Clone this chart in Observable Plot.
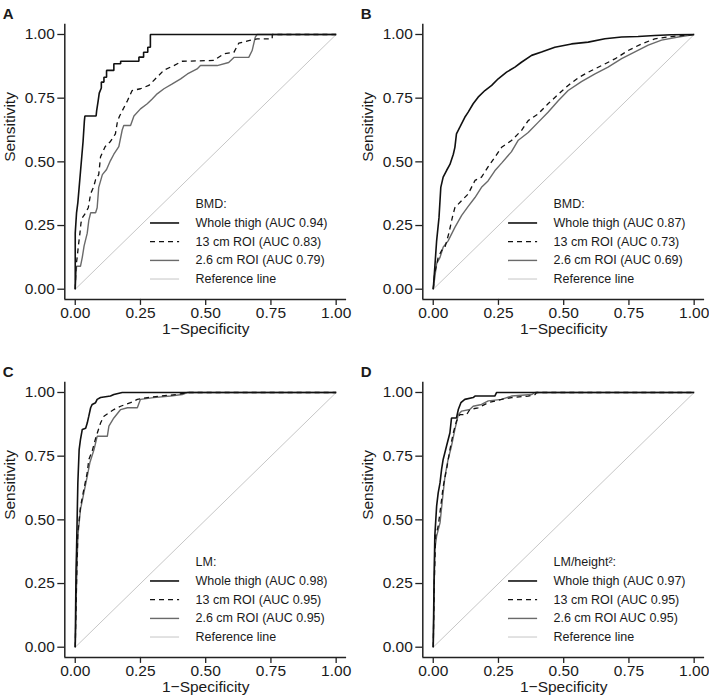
<!DOCTYPE html>
<html><head><meta charset="utf-8">
<script src="https://cdn.jsdelivr.net/npm/d3@7"></script>
<script src="https://cdn.jsdelivr.net/npm/@observablehq/plot@0.6"></script>
<style>
body{margin:0;background:#fff;}
#wrap{position:relative;width:709px;height:698px;overflow:hidden;}
.panel{position:absolute;}
</style></head><body><div id="wrap"></div>
<script>
// ---------- data ----------
const tickValues = [0, 0.25, 0.5, 0.75, 1];
const panelLetters = ["A", "B", "C", "D"];
const legendTitles = ["BMD:", "BMD:", "LM:", "LM/height²:"];
const legendLabels = [
  ["Whole thigh (AUC 0.94)", "13 cm ROI (AUC 0.83)", "2.6 cm ROI (AUC 0.79)", "Reference line"],
  ["Whole thigh (AUC 0.87)", "13 cm ROI (AUC 0.73)", "2.6 cm ROI (AUC 0.69)", "Reference line"],
  ["Whole thigh (AUC 0.98)", "13 cm ROI (AUC 0.95)", "2.6 cm ROI (AUC 0.95)", "Reference line"],
  ["Whole thigh (AUC 0.97)", "13 cm ROI (AUC 0.95)", "2.6 cm ROI AUC 0.95)", "Reference line"]
];
const referenceLine = [[0, 0], [1, 1]];

// points are [1-specificity, sensitivity]
const aWhole = [[0,0],[0,0.22],[0.005,0.3],[0.01,0.34],[0.015,0.4],[0.02,0.46],[0.025,0.52],[0.03,0.58],[0.035,0.66],[0.037,0.68],[0.08,0.68],[0.082,0.70],[0.088,0.74],[0.092,0.77],[0.1,0.79],[0.1,0.813],[0.11,0.813],[0.11,0.832],[0.12,0.832],[0.12,0.859],[0.148,0.859],[0.148,0.885],[0.174,0.885],[0.174,0.895],[0.244,0.895],[0.244,0.911],[0.262,0.911],[0.262,0.93],[0.278,0.93],[0.278,0.95],[0.288,0.95],[0.288,1],[1,1]];
const a13cm = [[0,0],[0.003,0.09],[0.008,0.13],[0.012,0.17],[0.018,0.22],[0.022,0.26],[0.027,0.28],[0.04,0.3],[0.05,0.32],[0.059,0.375],[0.07,0.4],[0.078,0.43],[0.09,0.45],[0.097,0.52],[0.115,0.56],[0.135,0.58],[0.154,0.61],[0.162,0.66],[0.17,0.68],[0.18,0.70],[0.2,0.74],[0.218,0.78],[0.25,0.787],[0.282,0.80],[0.314,0.833],[0.34,0.86],[0.378,0.878],[0.41,0.895],[0.53,0.898],[0.57,0.924],[0.608,0.93],[0.627,0.966],[0.665,0.976],[0.697,0.983],[0.755,0.983],[0.755,1],[1,1]];
const a26cm = [[0,0],[0.005,0.09],[0.02,0.09],[0.027,0.125],[0.034,0.17],[0.046,0.22],[0.052,0.27],[0.059,0.3],[0.078,0.3],[0.084,0.32],[0.09,0.4],[0.104,0.45],[0.12,0.47],[0.135,0.505],[0.148,0.53],[0.167,0.56],[0.18,0.625],[0.186,0.643],[0.212,0.643],[0.225,0.68],[0.25,0.708],[0.276,0.728],[0.295,0.747],[0.314,0.767],[0.34,0.787],[0.372,0.806],[0.404,0.826],[0.43,0.845],[0.467,0.865],[0.48,0.878],[0.544,0.878],[0.588,0.89],[0.608,0.91],[0.665,0.91],[0.678,0.937],[0.69,0.99],[0.697,1],[1,1]];

const bWhole = [[0,0],[0.006,0.086],[0.013,0.19],[0.022,0.28],[0.029,0.4],[0.038,0.44],[0.051,0.466],[0.064,0.49],[0.077,0.53],[0.083,0.557],[0.089,0.61],[0.102,0.636],[0.121,0.675],[0.134,0.695],[0.153,0.728],[0.172,0.754],[0.198,0.78],[0.224,0.8],[0.249,0.826],[0.281,0.852],[0.313,0.872],[0.338,0.891],[0.377,0.918],[0.415,0.931],[0.466,0.95],[0.53,0.963],[0.594,0.97],[0.658,0.983],[0.722,0.99],[0.785,0.992],[0.849,0.996],[0.913,0.999],[1,1]];
const b13cm = [[0,0],[0.005,0.06],[0.019,0.125],[0.032,0.152],[0.045,0.165],[0.06,0.22],[0.075,0.29],[0.083,0.32],[0.109,0.348],[0.134,0.374],[0.16,0.427],[0.185,0.44],[0.21,0.48],[0.236,0.518],[0.262,0.557],[0.3,0.584],[0.338,0.623],[0.364,0.662],[0.402,0.688],[0.44,0.728],[0.479,0.765],[0.517,0.8],[0.556,0.83],[0.594,0.852],[0.645,0.878],[0.696,0.904],[0.747,0.937],[0.798,0.963],[0.849,0.983],[0.913,0.992],[1,1]];
const b26cm = [[0,0],[0.013,0.1],[0.026,0.125],[0.038,0.165],[0.057,0.19],[0.083,0.243],[0.109,0.29],[0.134,0.325],[0.16,0.36],[0.185,0.4],[0.21,0.425],[0.236,0.465],[0.262,0.495],[0.3,0.54],[0.326,0.585],[0.364,0.615],[0.402,0.655],[0.44,0.695],[0.479,0.74],[0.517,0.78],[0.568,0.815],[0.62,0.845],[0.67,0.872],[0.722,0.905],[0.773,0.932],[0.824,0.958],[0.875,0.978],[0.939,0.99],[1,1]];

const cWhole = [[0,0],[0.003,0.3],[0.005,0.38],[0.01,0.645],[0.015,0.776],[0.02,0.815],[0.027,0.855],[0.04,0.86],[0.046,0.88],[0.052,0.907],[0.059,0.94],[0.065,0.953],[0.078,0.96],[0.084,0.973],[0.097,0.98],[0.135,0.986],[0.148,0.992],[0.18,1],[1,1]];
const c13cm = [[0,0],[0.005,0.25],[0.01,0.45],[0.02,0.55],[0.033,0.62],[0.046,0.685],[0.052,0.737],[0.065,0.77],[0.078,0.82],[0.097,0.88],[0.11,0.907],[0.129,0.92],[0.148,0.933],[0.174,0.946],[0.212,0.96],[0.238,0.973],[0.276,0.98],[0.327,0.986],[0.39,0.992],[0.43,1],[1,1]];
const c26cm = [[0,0],[0.005,0.25],[0.01,0.436],[0.02,0.54],[0.033,0.606],[0.046,0.671],[0.056,0.724],[0.072,0.776],[0.084,0.828],[0.123,0.828],[0.129,0.868],[0.148,0.9],[0.174,0.933],[0.2,0.94],[0.238,0.94],[0.25,0.973],[0.3,0.98],[0.365,0.986],[0.41,0.992],[0.43,1],[1,1]];

const dWhole = [[0,0],[0.003,0.25],[0.006,0.436],[0.013,0.554],[0.019,0.606],[0.026,0.645],[0.032,0.698],[0.038,0.737],[0.051,0.79],[0.064,0.842],[0.07,0.9],[0.089,0.9],[0.096,0.933],[0.106,0.96],[0.121,0.973],[0.153,0.98],[0.16,0.986],[0.236,0.986],[0.243,1],[1,1]];
const d13cm = [[0,0],[0.004,0.25],[0.009,0.436],[0.019,0.475],[0.029,0.554],[0.038,0.63],[0.051,0.698],[0.064,0.776],[0.077,0.842],[0.089,0.887],[0.102,0.913],[0.128,0.913],[0.14,0.933],[0.172,0.94],[0.211,0.96],[0.262,0.973],[0.3,0.98],[0.364,0.986],[0.39,0.992],[0.396,1],[1,1]];
const d26cm = [[0,0],[0.006,0.383],[0.013,0.436],[0.026,0.488],[0.034,0.567],[0.045,0.671],[0.057,0.737],[0.07,0.79],[0.083,0.855],[0.096,0.913],[0.109,0.927],[0.14,0.933],[0.153,0.946],[0.185,0.953],[0.211,0.967],[0.262,0.973],[0.3,0.986],[0.377,0.992],[0.39,1],[1,1]];

const panelCurves = [
  [aWhole, a13cm, a26cm],
  [bWhole, b13cm, b26cm],
  [cWhole, c13cm, c26cm],
  [dWhole, d13cm, d26cm]
];

// ---------- styles & layout ----------
const FONT = "'Liberation Sans', Arial, Helvetica, sans-serif";
const TEXT = "#1a1a1a";
const seriesStyles = [
  {stroke: "#111111", strokeWidth: 1.6, dash: null},
  {stroke: "#111111", strokeWidth: 1.3, dash: "5,4"},
  {stroke: "#6a6a6a", strokeWidth: 1.4, dash: null},
  {stroke: "#c6c6c6", strokeWidth: 1.0, dash: null}
];
const panelPos = [[0, 0], [357.6, 0], [0, 358.3], [357.6, 358.3]];
const W = 350, H = 340;
const dom = [-0.04, 1.04];
// legend layout (in data units of each panel)
const legLineX1 = 0.2885, legLineX2 = 0.40, legTextX = 0.461;
const legTitleY = 0.333, legRowY = [0.26, 0.187, 0.113, 0.04];

const wrap = document.getElementById("wrap");

panelCurves.forEach((curves, i) => {
  const marks = [];
  marks.push(Plot.line(referenceLine, {x: d => d[0], y: d => d[1], stroke: seriesStyles[3].stroke, strokeWidth: seriesStyles[3].strokeWidth}));
  [2, 1, 0].forEach(k => {
    const s = seriesStyles[k];
    marks.push(Plot.line(curves[k], {
      x: d => d[0], y: d => d[1],
      stroke: s.stroke, strokeWidth: s.strokeWidth,
      strokeDasharray: s.dash || undefined, strokeLinejoin: "miter", strokeLinecap: "butt"
    }));
  });
  marks.push(Plot.ruleY([dom[0]], {x1: dom[0], x2: dom[1], stroke: "#222", strokeWidth: 1.5}));
  marks.push(Plot.ruleX([dom[0]], {y1: dom[0], y2: dom[1], stroke: "#222", strokeWidth: 1.5}));
  marks.push(Plot.axisX({ticks: tickValues, tickFormat: d3.format(".2f"), tickSize: 6, tickPadding: 2, fontSize: 15.5, label: null, stroke: "#222", strokeWidth: 1.3, fill: TEXT}));
  marks.push(Plot.axisY({ticks: tickValues, tickFormat: d3.format(".2f"), tickSize: 7, tickPadding: 3, fontSize: 15.5, label: null, stroke: "#222", strokeWidth: 1.3, fill: TEXT}));
  marks.push(Plot.text(["1\u2212Specificity"], {frameAnchor: "bottom", dy: 34.5, fontSize: 15.5, fill: TEXT}));
  marks.push(Plot.text(["Sensitivity"], {frameAnchor: "left", dx: -55, rotate: -90, fontSize: 15.5, fill: TEXT}));
  marks.push(Plot.text([panelLetters[i]], {frameAnchor: "top-left", dx: -62, dy: -16, textAnchor: "start", fontSize: 15, fontWeight: "bold", fill: TEXT}));
  marks.push(Plot.text([legendTitles[i]], {x: legTextX, y: legTitleY, textAnchor: "start", fontSize: 12.5, fill: TEXT}));
  legendLabels[i].forEach((lab, j) => {
    const s = seriesStyles[j];
    marks.push(Plot.ruleY([legRowY[j]], {x1: legLineX1, x2: legLineX2, stroke: s.stroke, strokeWidth: s.strokeWidth, strokeDasharray: s.dash || undefined}));
    marks.push(Plot.text([lab], {x: legTextX, y: legRowY[j], textAnchor: "start", fontSize: 12.5, fill: TEXT}));
  });

  const svg = Plot.plot({
    width: W, height: H,
    marginLeft: 64.3, marginRight: 3.9, marginTop: 23.8, marginBottom: 41.1,
    x: {domain: dom},
    y: {domain: dom},
    style: {fontFamily: FONT, fontSize: "15px", background: "transparent", overflow: "visible", color: TEXT},
    marks
  });
  const div = document.createElement("div");
  div.className = "panel";
  div.style.left = panelPos[i][0] + "px";
  div.style.top = panelPos[i][1] + "px";
  div.appendChild(svg);
  wrap.appendChild(div);
});
</script>
</body></html>
